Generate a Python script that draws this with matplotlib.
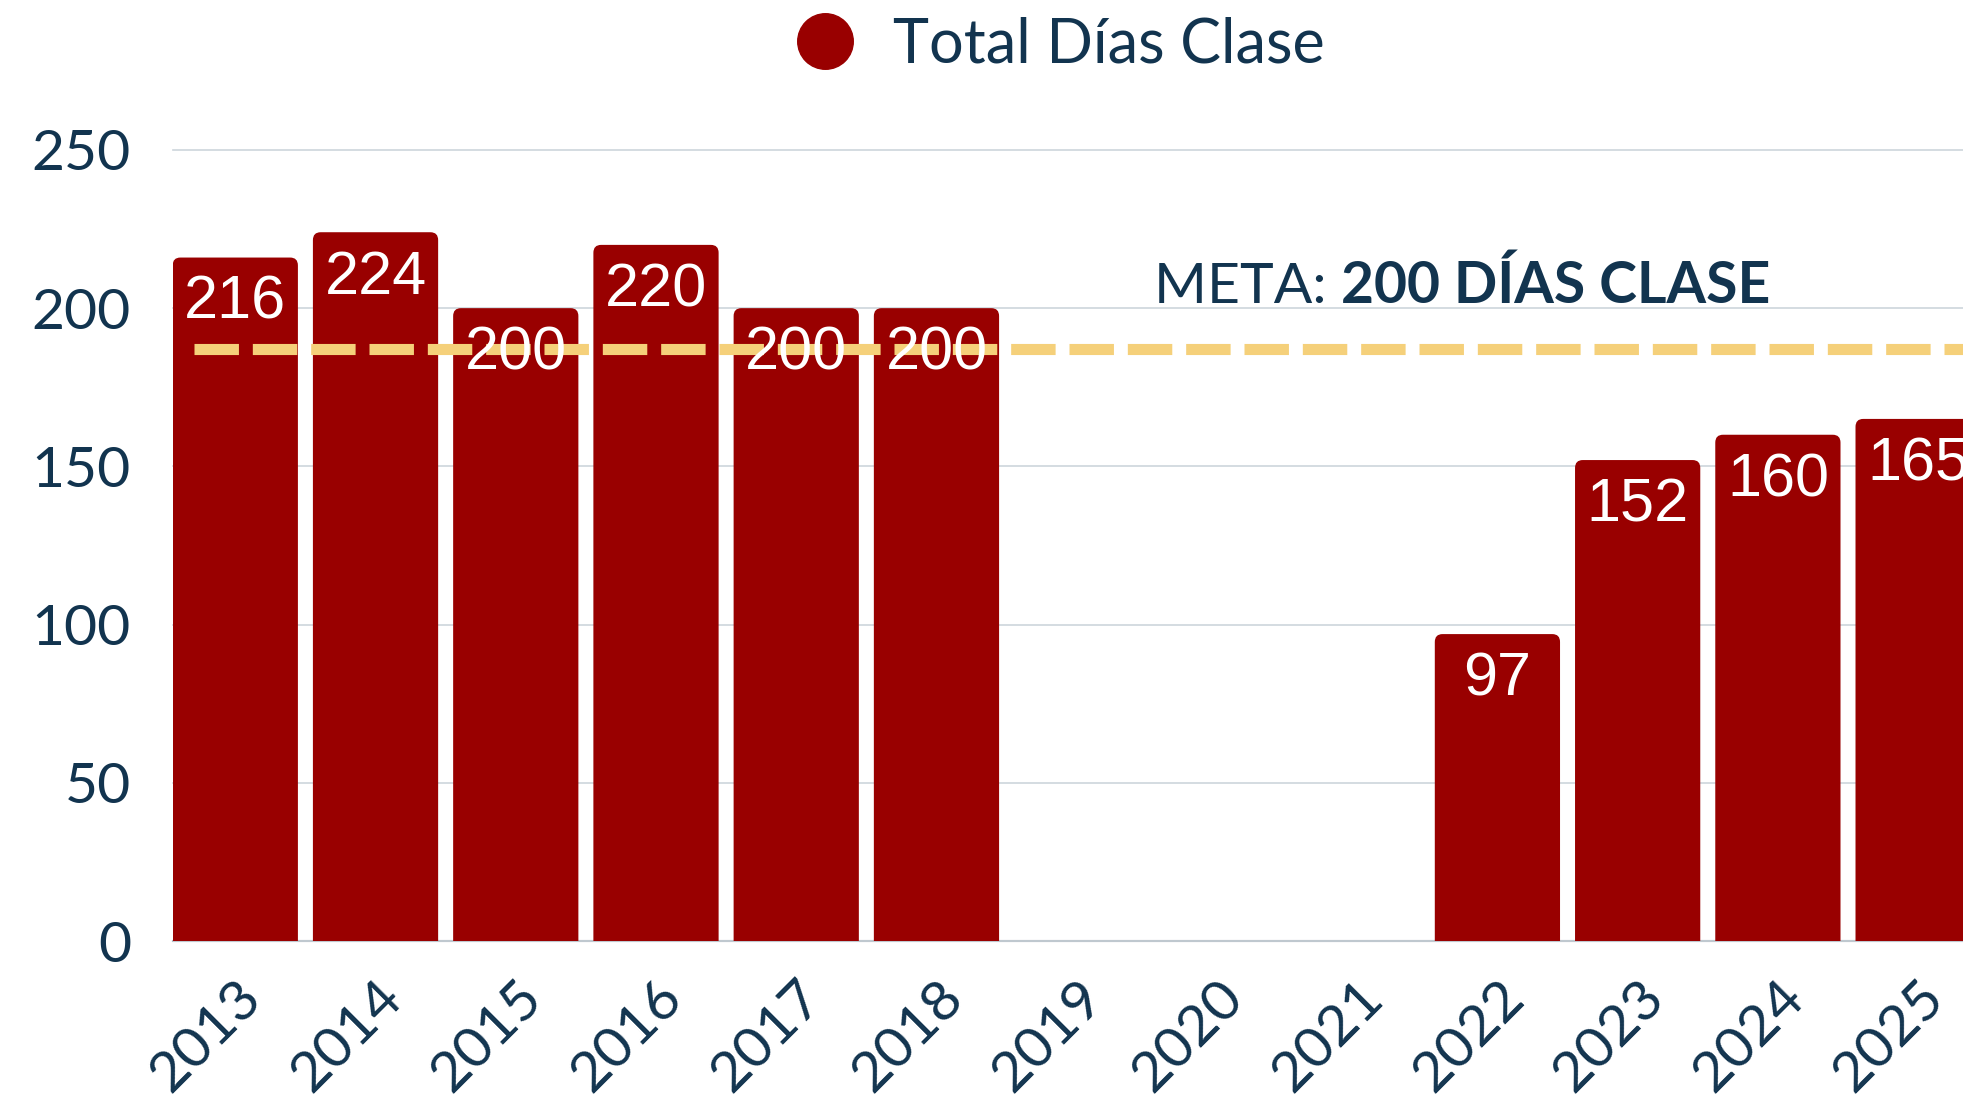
import numpy as np
import matplotlib.pyplot as plt
from matplotlib.lines import Line2D
from matplotlib.patches import FancyBboxPatch

# data
years = ["2013", "2014", "2015", "2016", "2017", "2018", "2019",
         "2020", "2021", "2022", "2023", "2024", "2025"]
dias = [216, 224, 200, 220, 200, 200, np.nan, np.nan, np.nan, 97, 152, 160, 165]
meta_line = 187
yticks = [0, 50, 100, 150, 200, 250]

navy = "#12344f"
red = "#990000"
gold = "#f5d07a"

fig = plt.figure(figsize=(19.63, 11.01), dpi=100)
ax = fig.add_axes([0.088, 0.1453, 0.912, 0.7185])

x = np.arange(len(years))
bars = ax.bar(x, dias, width=0.893, color=red, zorder=2)

# swap plain rectangles for ones with rounded tops (bottom hidden under axis)
for b in bars:
    h = b.get_height()
    if np.isnan(h):
        continue
    b.set_visible(False)
    rb = FancyBboxPatch((b.get_x(), -10), b.get_width(), h + 10,
                        boxstyle="round,pad=0,rounding_size=0.055",
                        mutation_aspect=45, fc=red, ec="none", zorder=2)
    ax.add_patch(rb)

# value labels inside the top of each bar
for xi, v in zip(x, dias):
    if np.isnan(v):
        continue
    ax.annotate(f"{int(v)}", xy=(xi, v), xytext=(0, -33), textcoords="offset points",
                ha="center", va="center", color="white", fontsize=44,
                family="Liberation Sans", zorder=4, annotation_clip=False)

# goal line
ax.plot([-0.294, len(years)], [meta_line, meta_line], color=gold, lw=8,
        dashes=(4, 1.25), zorder=3, solid_capstyle="butt")
t1 = ax.text(6.55, 198.6, "META: ", fontsize=41, color=navy, family="Lato",
             ha="left", va="bottom", zorder=4)
ax.annotate("200 DÍAS CLASE", xy=(1, 0), xycoords=t1, fontsize=41, color=navy,
            family="Lato", fontweight="bold", ha="left", va="bottom", zorder=4)

ax.set_xlim(-0.446, 12.32)
ax.set_ylim(0, 250)
ax.set_yticks(yticks)
ax.set_xticks(x)
ax.set_xticklabels(years, rotation=45, ha="right", va="top", rotation_mode="anchor")
ax.tick_params(axis="both", length=0, labelsize=41, labelcolor=navy)
ax.tick_params(axis="y", pad=30)
ax.tick_params(axis="x", pad=22)
for lab in ax.get_xticklabels() + ax.get_yticklabels():
    lab.set_family("Lato")

ax.grid(axis="y", color="#cdd5dc", lw=1.2, zorder=0, clip_on=False)
for s in ["top", "right", "left"]:
    ax.spines[s].set_visible(False)
ax.spines["bottom"].set_color("#7f8a94")
ax.spines["bottom"].set_linewidth(1.5)
ax.spines["bottom"].set_zorder(1)

handle = Line2D([], [], marker="o", ls="none", markersize=40, color=red)
fig.legend([handle], ["Total Días Clase"], loc="center", bbox_to_anchor=(0.532, 0.959),
           frameon=False, labelcolor=navy, handletextpad=0.1,
           prop={"family": "Lato", "size": 44})

fig.savefig("out.png", dpi=100)
